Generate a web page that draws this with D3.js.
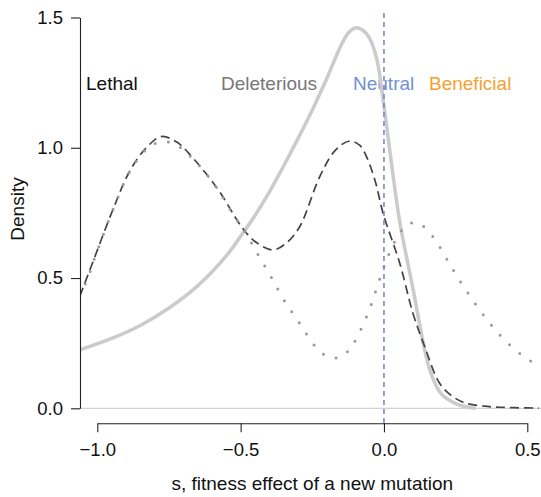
<!DOCTYPE html>
<html>
<head>
<meta charset="utf-8">
<script src="https://cdn.jsdelivr.net/npm/d3@7"></script>
<style>
  body { margin: 0; background: #fff; }
  svg { font-family: "Liberation Sans", Arial, Helvetica, sans-serif; }
</style>
</head>
<body>
<div id="chart"></div>
<script>
// Values (s, density)
const solidS = [-1.061, -0.95, -0.85, -0.75, -0.65, -0.55, -0.5, -0.45, -0.4, -0.35, -0.3, -0.25, -0.2, -0.155, -0.125, -0.1, -0.075, -0.05, -0.025, 0.0, 0.025, 0.054, 0.1, 0.16, 0.2, 0.25, 0.29, 0.32];
const solidD = [0.224, 0.268, 0.318, 0.385, 0.47, 0.585, 0.66, 0.74, 0.83, 0.93, 1.035, 1.145, 1.265, 1.38, 1.44, 1.46, 1.452, 1.42, 1.34, 1.16, 0.95, 0.723, 0.466, 0.147, 0.055, 0.018, 0.005, 0.0];

const dashS = [-1.061, -1.015, -0.946, -0.887, -0.829, -0.777, -0.72, -0.666, -0.62, -0.573, -0.497, -0.45, -0.387, -0.34, -0.294, -0.224, -0.17, -0.12, -0.085, -0.061, -0.03, -0.003, 0.055, 0.101, 0.142, 0.194, 0.24, 0.287, 0.35, 0.404, 0.47, 0.54];
const dashD = [0.43, 0.563, 0.761, 0.91, 1.0, 1.043, 1.02, 0.96, 0.90, 0.831, 0.697, 0.64, 0.608, 0.635, 0.697, 0.889, 0.99, 1.026, 1.01, 0.966, 0.87, 0.748, 0.557, 0.365, 0.237, 0.096, 0.045, 0.019, 0.008, 0.004, 0.002, 0.001];

const dotS = [-1.061, -1.029, -1.015, -0.928, -0.887, -0.829, -0.788, -0.742, -0.699, -0.666, -0.631, -0.575, -0.521, -0.494, -0.445, -0.396, -0.349, -0.294, -0.239, -0.203, -0.157, -0.12, -0.094, -0.054, -0.022, 0.01, 0.052, 0.085, 0.11, 0.133, 0.166, 0.194, 0.243, 0.295, 0.351, 0.415, 0.488, 0.54];
const dotD = [0.43, 0.512, 0.559, 0.81, 0.908, 0.994, 1.02, 1.02, 0.992, 0.956, 0.915, 0.831, 0.736, 0.695, 0.601, 0.509, 0.416, 0.326, 0.237, 0.203, 0.194, 0.226, 0.273, 0.37, 0.472, 0.572, 0.668, 0.707, 0.712, 0.702, 0.665, 0.62, 0.528, 0.439, 0.352, 0.269, 0.198, 0.165];

const xTicks = [-1.0, -0.5, 0.0, 0.5];
const yTicks = [0.0, 0.5, 1.0, 1.5];

const classLabels = ["Lethal", "Deleterious", "Neutral", "Beneficial"];
const classLabelX = [86, 221, 353, 429];
const classColors = ["#111111", "#777777", "#6f91d2", "#f6a12f"];

const width = 541, height = 497;
const plotLeft = 80, plotRight = 541;

const svg = d3.select("#chart").append("svg")
    .attr("width", width)
    .attr("height", height);

const x = d3.scaleLinear().domain([-1, 0.5]).range([97.3, 527.3]);
const y = d3.scaleLinear().domain([0, 1.5]).range([408.3, 17.5]);

svg.append("defs").append("clipPath").attr("id", "plotclip")
    .append("rect")
    .attr("x", plotLeft).attr("y", 0)
    .attr("width", plotRight - plotLeft).attr("height", 420);

// Category labels (drawn under the curves)
svg.selectAll(".cls")
    .data(classLabels)
    .join("text")
    .attr("class", "cls")
    .attr("x", (d, i) => classLabelX[i])
    .attr("y", 90)
    .attr("font-size", "19px")
    .attr("fill", (d, i) => classColors[i])
    .text(d => d);

// Zero baseline
svg.append("line")
    .attr("x1", plotLeft).attr("x2", plotRight)
    .attr("y1", y(0)).attr("y2", y(0))
    .attr("stroke", "#c8c8c8").attr("stroke-width", 1);

const line = d3.line()
    .x(d => x(d[0]))
    .y(d => y(d[1]))
    .curve(d3.curveCatmullRom.alpha(0.5));

const curves = svg.append("g").attr("clip-path", "url(#plotclip)");

curves.append("path")
    .datum(d3.zip(solidS, solidD))
    .attr("d", line)
    .attr("fill", "none")
    .attr("stroke", "#cbcbcb")
    .attr("stroke-width", 3.5);

curves.append("path")
    .datum(d3.zip(dashS, dashD))
    .attr("d", line)
    .attr("fill", "none")
    .attr("stroke", "#444")
    .attr("stroke-width", 1.7)
    .attr("stroke-dasharray", "9,5");

curves.append("path")
    .datum(d3.zip(dotS, dotD))
    .attr("d", line)
    .attr("fill", "none")
    .attr("stroke", "#999")
    .attr("stroke-width", 3)
    .attr("stroke-linecap", "round")
    .attr("stroke-dasharray", "0,13.3");

// Neutral line at s = 0
svg.append("line")
    .attr("x1", x(0)).attr("x2", x(0))
    .attr("y1", 13).attr("y2", 423)
    .attr("stroke", "#6b8fd4")
    .attr("stroke-width", 1.6)
    .attr("stroke-dasharray", "5,4");

// Axes
const xAxis = svg.append("g")
    .attr("transform", "translate(0,423.3)")
    .call(d3.axisBottom(x).tickValues(xTicks).tickFormat(d3.format(".1f"))
        .tickSize(9).tickSizeOuter(0).tickPadding(11));

const yAxis = svg.append("g")
    .attr("transform", `translate(${plotLeft},0)`)
    .call(d3.axisLeft(y).tickValues(yTicks).tickFormat(d3.format(".1f"))
        .tickSize(9).tickSizeOuter(0).tickPadding(8));

[xAxis, yAxis].forEach(g => {
    g.selectAll("path, line").attr("stroke", "#222").attr("stroke-width", 1.1);
    g.selectAll("text").attr("font-size", "18.5px").attr("fill", "#111")
        .attr("font-family", "Liberation Sans, Arial, sans-serif");
});

// Axis titles
svg.append("text")
    .attr("x", (x(-1) + x(0.5)) / 2)
    .attr("y", 490)
    .attr("text-anchor", "middle")
    .attr("font-size", "19px")
    .attr("fill", "#111")
    .text("s, fitness effect of a new mutation");

svg.append("text")
    .attr("transform", "translate(24,209) rotate(-90)")
    .attr("text-anchor", "middle")
    .attr("font-size", "19px")
    .attr("fill", "#111")
    .text("Density");
</script>
</body>
</html>
